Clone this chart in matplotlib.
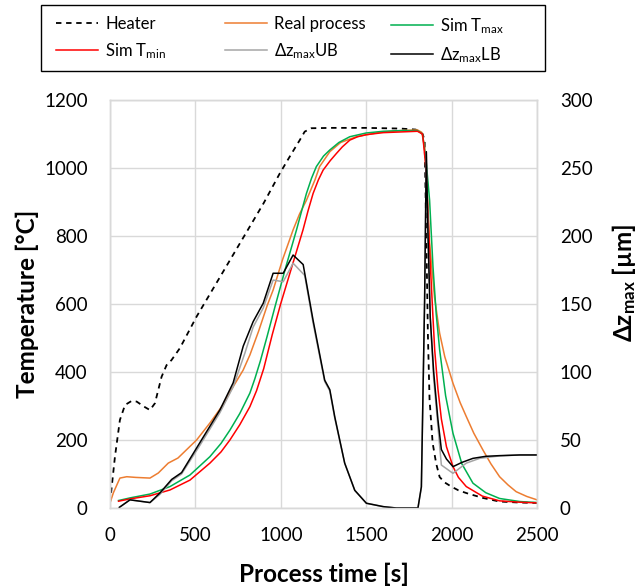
import matplotlib
matplotlib.use("Agg")
import matplotlib.pyplot as plt
from matplotlib.patches import Rectangle

plt.rcParams['font.family'] = ['Lato', 'DejaVu Sans']
plt.rcParams['mathtext.fontset'] = 'custom'
plt.rcParams['mathtext.rm'] = 'Lato'
plt.rcParams['mathtext.bf'] = 'Lato:bold'
plt.rcParams['mathtext.it'] = 'Lato:italic'

# ---- data ----
heater_t = [0, 29, 58, 88, 127, 156, 200, 234, 263, 302, 331, 360, 409, 507, 600, 700, 800, 900,
            994, 1060, 1111, 1140, 1179, 1300, 1500, 1700, 1790, 1830, 1842, 1852, 1861, 1871,
            1889, 1910, 1930, 1960, 1998, 2040, 2086, 2180, 2280, 2400, 2500]
heater_T = [15, 151, 259, 303, 315, 313, 298, 288, 308, 386, 420, 435, 470, 563, 642, 727, 812, 897,
            984, 1040, 1082, 1107, 1117, 1118, 1118, 1116, 1113, 1100, 1082, 800, 514, 318,
            191, 130, 91, 75, 63, 52, 44, 30, 19, 16, 15]

real_t = [0, 20, 58, 98, 150, 234, 283, 341, 398, 507, 585, 661, 707, 779, 819, 870, 920, 955,
          1010, 1072, 1110, 1150, 1200, 1227, 1287, 1350, 1443, 1579, 1700, 1800, 1825, 1842,
          1855, 1871, 1900, 1930, 1960, 2008, 2050, 2086, 2130, 2183, 2230, 2281, 2330, 2378,
          2440, 2500]
real_T = [15, 45, 88, 92, 90, 88, 103, 132, 147, 200, 250, 303, 345, 405, 450, 520, 595, 641,
          730, 818, 865, 905, 965, 1004, 1048, 1075, 1092, 1105, 1110, 1112, 1105, 1063,
          950, 780, 620, 514, 445, 367, 310, 269, 220, 171, 130, 92, 68, 48,
          34, 24]

tmax_t = [50, 120, 234, 351, 468, 585, 650, 702, 760, 819, 848, 880, 920, 966, 1030, 1092, 1120,
          1150, 1180, 1208, 1250, 1287, 1340, 1404, 1500, 1600, 1700, 1800, 1830, 1852, 1871,
          1891, 1910, 1930, 1965, 2008, 2060, 2125, 2200, 2281, 2400, 2500]
tmax_T = [22, 30, 41, 63, 97, 151, 190, 229, 278, 338, 380, 432, 505, 592, 710, 818, 870,
          925, 970, 1004, 1035, 1053, 1075, 1092, 1103, 1108, 1110, 1110, 1100, 1014, 906,
          710, 570, 465, 330, 220, 130, 73, 45, 28, 19, 16]

tmin_t = [50, 120, 234, 351, 468, 585, 650, 702, 760, 819, 858, 900, 950, 999, 1065, 1130, 1160,
          1189, 1220, 1248, 1290, 1326, 1360, 1404, 1450, 1500, 1600, 1700, 1800, 1830, 1850,
          1871, 1891, 1901, 1920, 1940, 1970, 2008, 2040, 2086, 2180, 2281, 2400, 2500]
tmin_T = [20, 27, 36, 53, 82, 132, 165, 200, 245, 298, 345, 410, 510, 600, 710, 818, 875,
          925, 965, 994, 1022, 1043, 1062, 1082, 1092, 1098, 1104, 1106, 1108, 1100, 1000,
          760, 560, 465, 350, 262, 180, 122, 90, 63, 35, 21, 17, 15]

ub_t = [55, 117, 234, 292, 361, 419, 526, 643, 721, 790, 838, 897, 955, 1014, 1072, 1140, 1189,
        1257, 1287, 1316, 1374, 1433, 1501, 1600, 1676, 1803, 1823, 1842, 1852, 1862, 1875,
        1895, 1920, 1940, 2008, 2086, 2164, 2281, 2400, 2500]
ub_z = [0.5, 6, 4, 10, 20, 25, 46, 70, 89, 114, 133, 147, 167.6, 166.4, 180, 171, 136,
        93, 86, 66, 33, 13, 3.5, 1, 0, 0, 15, 153, 262, 200, 140,
        95, 60, 31.6, 25.5, 33, 36.5, 38.3, 39, 39]

lb_t = [55, 117, 234, 292, 361, 419, 526, 643, 721, 780, 838, 897, 955, 1014, 1072, 1131, 1189,
        1257, 1287, 1316, 1374, 1433, 1501, 1600, 1676, 1803, 1823, 1842, 1852, 1862, 1875,
        1895, 1920, 1940, 1970, 2008, 2060, 2125, 2200, 2281, 2400, 2500]
lb_z = [0.5, 6, 4, 11, 21, 26, 48, 72, 92, 119, 137, 150.5, 172.6, 172.6, 186, 179, 138,
        94, 87, 67, 33, 13, 3.5, 1, 0, 0, 15.6, 153, 262, 200, 140,
        100, 65, 43, 36, 30.4, 33.5, 36.5, 38, 38.5, 39, 39]

x_ticks = [0, 500, 1000, 1500, 2000, 2500]
y_ticks = [0, 200, 400, 600, 800, 1000, 1200]
y2_ticks = [0, 50, 100, 150, 200, 250, 300]

labels = ['Heater', 'Real process', 'Sim T$_{\\mathrm{max}}$',
          'Sim T$_{\\mathrm{min}}$', '\u0394z$_{\\mathrm{max}}$UB', '\u0394z$_{\\mathrm{max}}$LB']

# ---- figure ----
W, H = 642, 587
fig = plt.figure(figsize=(W / 100, H / 100), dpi=100)
L, R, T, B = 110, 537, 100, 508
ax = fig.add_axes([L / W, 1 - B / H, (R - L) / W, (B - T) / H])
ax2 = ax.twinx()

grid_c = '#d9d9d9'
lw = 1.1
h1, = ax.plot(heater_t, heater_T, color='black', lw=1.3, ls=(0, (3, 2.6)))
h2, = ax.plot(real_t, real_T, color='#ED7D31', lw=lw)
h3, = ax.plot(tmax_t, tmax_T, color='#00B050', lw=lw)
h4, = ax.plot(tmin_t, tmin_T, color='#FF0000', lw=lw)
h5, = ax2.plot(ub_t, ub_z, color='#A5A5A5', lw=lw)
h6, = ax2.plot(lb_t, lb_z, color='black', lw=lw)

ax.set_xlim(0, 2500)
ax.set_ylim(0, 1200)
ax2.set_ylim(0, 300)
ax.set_xticks(x_ticks)
ax.set_yticks(y_ticks)
ax2.set_yticks(y2_ticks)
ax.grid(True, color=grid_c, lw=1.0)
ax.set_axisbelow(True)
for a in (ax, ax2):
    for s in a.spines.values():
        s.set_color(grid_c)
        s.set_linewidth(1.0)
    a.tick_params(length=0, labelsize=13.5, colors='black')
ax.tick_params(axis='y', pad=16)
ax.tick_params(axis='x', pad=14)
ax2.tick_params(axis='y', pad=16.5)

ax.set_xlabel('Process time [s]', fontsize=17.5, fontweight='bold', labelpad=13)
ax.set_ylabel('Temperature [\u00b0C]', fontsize=17.5, fontweight='bold')
ax.yaxis.set_label_coords(-(L - 39) / (R - L), 0.5)
fig.text(624 / W, 1 - 283 / H, '\u0394z$_{\\mathbf{max}}$ [\u00b5m]', rotation=90,
         fontsize=17.5, fontweight='bold', ha='center', va='center')

# legend: outer frame + three fixed-position columns (row-major like the original)
fig.patches.append(Rectangle((41 / W, 1 - 71 / H), 504 / W, 66 / H, transform=fig.transFigure,
                             fill=False, edgecolor='black', lw=1.0))
cols = [([h1, h4], [labels[0], labels[3]], 56),
        ([h2, h5], [labels[1], labels[4]], 225),
        ([h3, h6], [labels[2], labels[5]], 391)]
for hs, ls_, xpx in cols:
    fig.legend(handles=hs, labels=ls_, ncol=1, loc='upper left',
               bbox_to_anchor=(xpx / W, 1 - 16 / H), fontsize=12, frameon=False,
               handlelength=2.5, handletextpad=0.45, borderaxespad=0, borderpad=0,
               labelspacing=0.55)

fig.savefig('out.png', dpi=100)
